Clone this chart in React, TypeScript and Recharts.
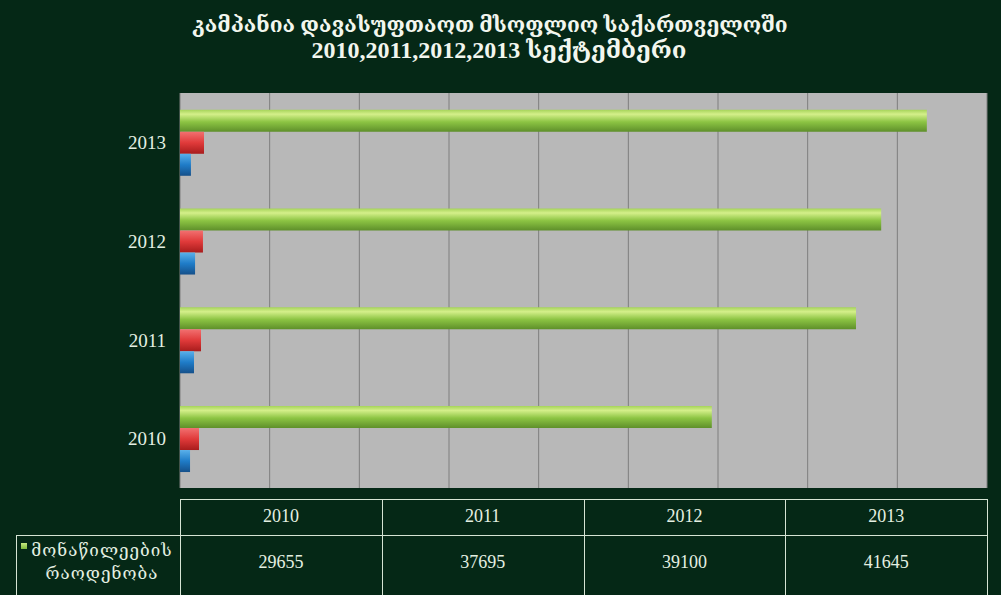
import React from "react";
import { BarChart, Bar, XAxis, YAxis, CartesianGrid } from "recharts";

const years = ["2010", "2011", "2012", "2013"];
const participants = [29655, 37695, 39100, 41645];
const redSeries = [1060, 1170, 1280, 1340];
const blueSeries = [560, 780, 840, 610];
const xTicks = [0, 5000, 10000, 15000, 20000, 25000, 30000, 35000, 40000, 45000];

const titleLine1 = "კამპანია დავასუფთაოთ მსოფლიო საქართველოში";
const titleLine2 = "2010,2011,2012,2013 სექტემბერი";
const legendLines = ["მონაწილეების", "რაოდენობა"];

const data = years.map((y, i) => ({
  year: y,
  participants: participants[i],
  red: redSeries[i],
  blue: blueSeries[i],
}));

const BG = "#052816";
const TEXT = "#e4f0e2";
const FONT = "'Liberation Serif', 'DejaVu Serif', serif";
const LINE = "#d6e4d4";

const PLOT_LEFT = 180;
const PLOT_RIGHT = 987;
const colW = (PLOT_RIGHT - PLOT_LEFT) / years.length;

export default function App() {
  return (
    <div
      style={{
        position: "absolute",
        left: 0,
        top: 0,
        width: 1001,
        height: 595,
        background: BG,
        overflow: "hidden",
        fontFamily: FONT,
      }}
    >
      <div
        style={{
          position: "absolute",
          top: 13,
          left: 0,
          width: 980,
          textAlign: "center",
          color: "#f2f6ee",
          fontSize: 21,
          fontWeight: "bold",
          lineHeight: "25px",
        }}
      >
        {titleLine1}
      </div>
      <div
        style={{
          position: "absolute",
          top: 36,
          left: 0,
          width: 998,
          textAlign: "center",
          color: "#f2f6ee",
          fontSize: 24,
          fontWeight: "bold",
          lineHeight: "28px",
        }}
      >
        {titleLine2}
      </div>

      <div style={{ position: "absolute", left: 0, top: 0 }}>
        <BarChart
          width={1001}
          height={488}
          data={data}
          layout="vertical"
          margin={{ top: 93, right: 1001 - PLOT_RIGHT, left: PLOT_LEFT - 60, bottom: 0 }}
          barCategoryGap="17%"
          barGap={0}
        >
          <defs>
            <linearGradient id="gGreen" x1="0" y1="0" x2="0" y2="1">
              <stop offset="0%" stopColor="#a6d45a" />
              <stop offset="20%" stopColor="#d4ef8a" />
              <stop offset="55%" stopColor="#8cc443" />
              <stop offset="100%" stopColor="#5e8f2a" />
            </linearGradient>
            <linearGradient id="gRed" x1="0" y1="0" x2="0" y2="1">
              <stop offset="0%" stopColor="#f27070" />
              <stop offset="50%" stopColor="#e03a3a" />
              <stop offset="100%" stopColor="#a81c1c" />
            </linearGradient>
            <linearGradient id="gBlue" x1="0" y1="0" x2="0" y2="1">
              <stop offset="0%" stopColor="#5ab0ea" />
              <stop offset="50%" stopColor="#1f7cc8" />
              <stop offset="100%" stopColor="#15508a" />
            </linearGradient>
          </defs>
          <CartesianGrid horizontal={false} stroke="#7e7e7e" fill="#b8b8b8" />
          <XAxis
            type="number"
            domain={[0, 45000]}
            ticks={xTicks}
            tick={{ fill: "transparent", fontSize: 1 }}
            tickLine={false}
            axisLine={false}
            height={0}
          />
          <YAxis
            type="category"
            dataKey="year"
            reversed
            width={60}
            tickLine={false}
            axisLine={false}
            tick={{ fill: TEXT, fontSize: 19, fontFamily: FONT, dx: -6 }}
          />
          <Bar dataKey="participants" fill="url(#gGreen)" isAnimationActive={false} />
          <Bar dataKey="red" fill="url(#gRed)" isAnimationActive={false} />
          <Bar dataKey="blue" fill="url(#gBlue)" isAnimationActive={false} />
        </BarChart>
      </div>

      {/* data table */}
      <div style={{ position: "absolute", left: 0, top: 0, width: 1001, height: 595 }}>
        <div
          style={{
            position: "absolute",
            left: PLOT_LEFT,
            top: 499,
            width: PLOT_RIGHT - PLOT_LEFT,
            height: 120,
            borderTop: `1px solid ${LINE}`,
          }}
        />
        <div
          style={{
            position: "absolute",
            left: 16,
            top: 535,
            width: PLOT_RIGHT - 16,
            borderTop: `1px solid ${LINE}`,
          }}
        />
        <div
          style={{
            position: "absolute",
            left: 16,
            top: 535,
            height: 80,
            borderLeft: `1px solid ${LINE}`,
          }}
        />
        {years.map((y, i) => (
          <React.Fragment key={y}>
            <div
              style={{
                position: "absolute",
                left: PLOT_LEFT + i * colW,
                top: 499,
                height: 120,
                borderLeft: `1px solid ${LINE}`,
              }}
            />
            <div
              style={{
                position: "absolute",
                left: PLOT_LEFT + i * colW,
                top: 506,
                width: colW,
                textAlign: "center",
                color: TEXT,
                fontSize: 18,
              }}
            >
              {y}
            </div>
            <div
              style={{
                position: "absolute",
                left: PLOT_LEFT + i * colW,
                top: 552,
                width: colW,
                textAlign: "center",
                color: TEXT,
                fontSize: 18,
              }}
            >
              {participants[i]}
            </div>
          </React.Fragment>
        ))}
        <div
          style={{
            position: "absolute",
            left: PLOT_RIGHT,
            top: 499,
            height: 120,
            borderLeft: `1px solid ${LINE}`,
          }}
        />
        {/* legend cell */}
        <div
          style={{
            position: "absolute",
            left: 21,
            top: 543,
            width: 6,
            height: 6,
            background: "linear-gradient(#c8ea80, #7cb83a)",
          }}
        />
        <div
          style={{
            position: "absolute",
            left: 26,
            top: 539,
            width: 152,
            textAlign: "center",
            color: TEXT,
            fontSize: 17,
            letterSpacing: "1px",
            lineHeight: "23px",
          }}
        >
          {legendLines.map((l) => (
            <div key={l}>{l}</div>
          ))}
        </div>
      </div>
    </div>
  );
}
